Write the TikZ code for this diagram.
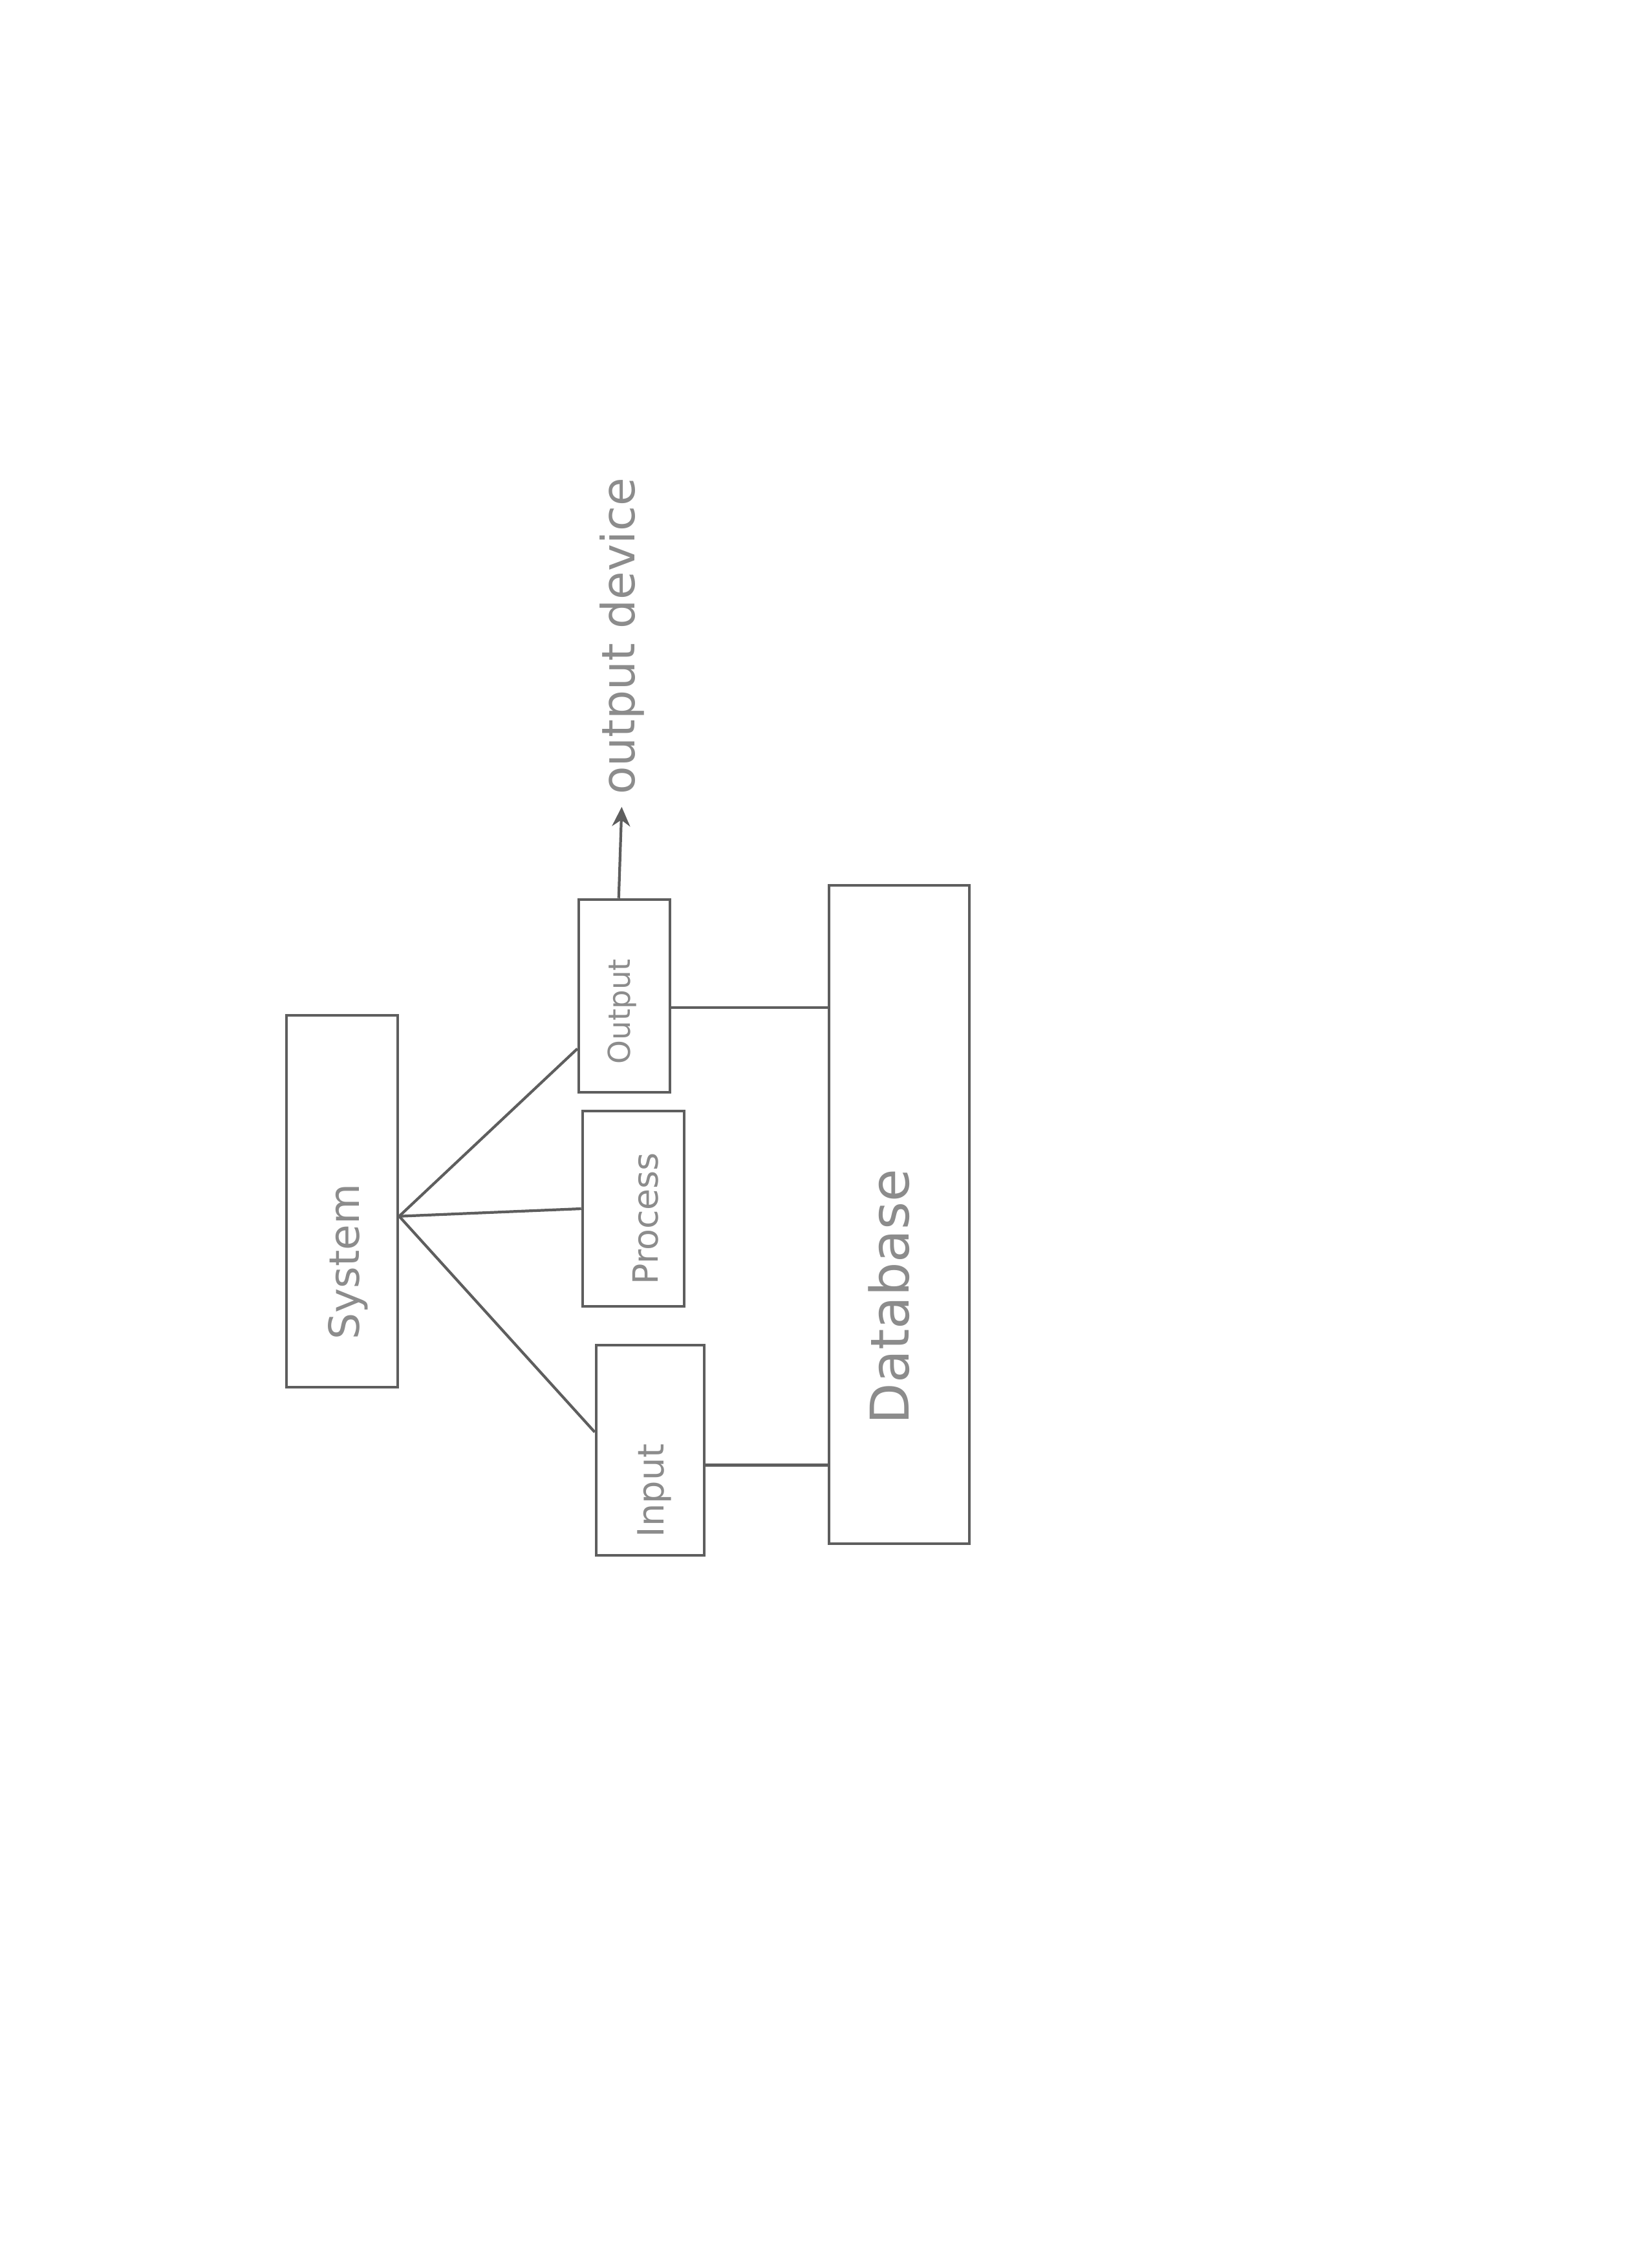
\documentclass[tikz,border=0pt]{standalone}
\usepackage{fontspec}
\setmainfont{DejaVu Sans}
\usetikzlibrary{calc,arrows.meta}
\definecolor{pencil}{HTML}{5E5E5E}
\definecolor{lead}{HTML}{8C8C8C}

\begin{document}
\begin{tikzpicture}[
        box/.style={draw=pencil, line width=1.3pt, inner sep=0pt},
        wire/.style={draw=pencil, line width=1.2pt},
        hand/.style={text=lead, rotate=90, inner sep=0pt}
    ]
    \useasboundingbox (0,0) rectangle (25.5,-35.07);

    % Boxes
    \node[box, minimum width=1.72cm, minimum height=5.75cm] (system)   at (5.29,-18.575) {};
    \node[box, minimum width=1.41cm, minimum height=2.98cm] (output)   at (9.655,-15.40) {};
    \node[box, minimum width=1.57cm, minimum height=3.02cm] (process)  at (9.795,-18.69) {};
    \node[box, minimum width=1.67cm, minimum height=3.25cm] (input)    at (10.055,-22.425) {};
    \node[box, minimum width=2.17cm, minimum height=10.18cm] (database) at (13.905,-18.78) {};

    % Labels
    \node[hand, font=\fontsize{18.4}{20}\selectfont] (systemtxt)   at (5.38,-19.51) {System};
    \node[hand, font=\fontsize{13.3}{15}\selectfont] (outputtxt)   at (9.62,-15.64) {Output};
    \node[hand, font=\fontsize{15.3}{17}\selectfont] (processtxt)  at (9.98,-18.84) {Process};
    \node[hand, font=\fontsize{15.9}{17}\selectfont] (inputtxt)    at (10.12,-23.05) {Input};
    \node[hand, font=\fontsize{23.5}{25}\selectfont] (databasetxt) at (13.75,-20.05) {Database};
    \node[hand, font=\fontsize{20.2}{22}\selectfont] (device)      at (9.62,-9.84) {output device};

    % Connectors
    \coordinate (hub) at ($(system.south east)!0.46!(system.north east)$);
    \coordinate (outR) at ($(output.south east)!0.44!(output.north east)$);
    \coordinate (inR)  at ($(input.south east)!0.43!(input.north east)$);
    \draw[wire] (hub) -- ($(output.south west)!0.23!(output.north west)$);
    \draw[wire] (hub) -- (process.west);
    \draw[wire] (hub) -- ($(input.south west)!0.585!(input.north west)$);
    \draw[wire] (outR) -- (outR -| database.west);
    \draw[wire] (inR) -- (inR -| database.west);
    \draw[wire, -{Stealth[length=0.3cm, width=0.28cm]}, shorten >=0.18cm]
        ($(output.north west)!0.44!(output.north east)$) -- (device.west);
\end{tikzpicture}
\end{document}
